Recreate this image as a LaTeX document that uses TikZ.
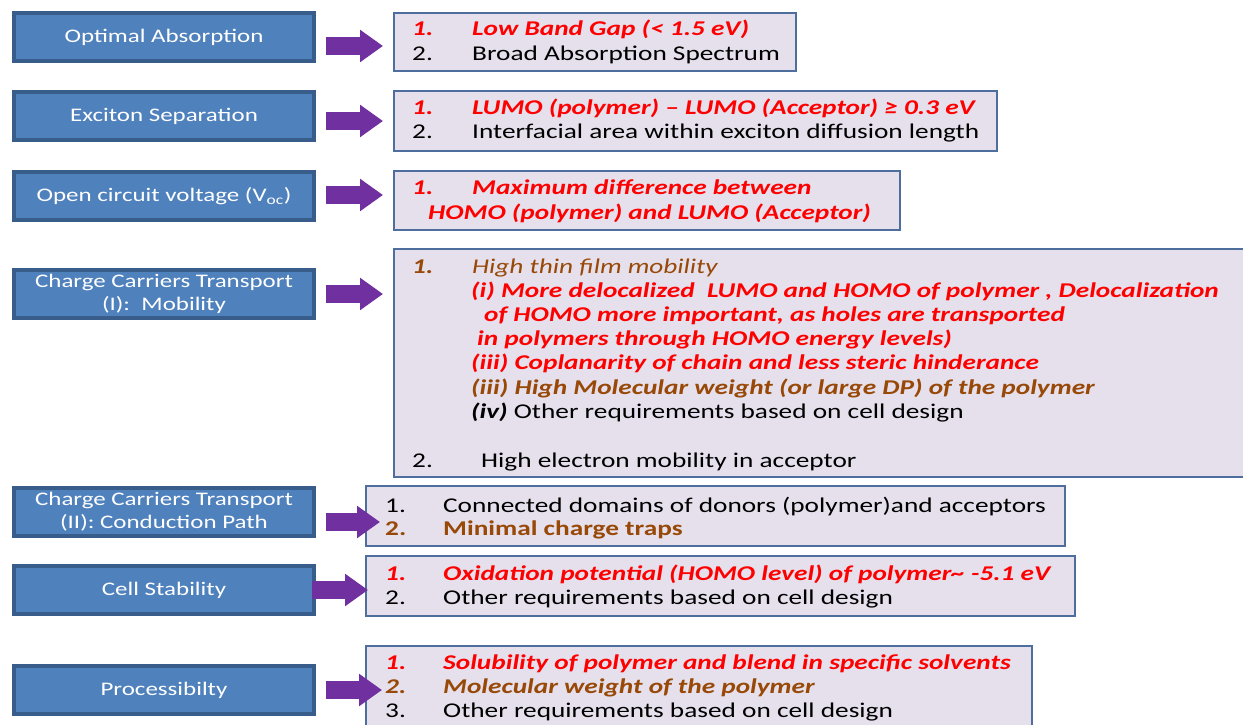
\documentclass[tikz,border=0pt]{standalone}
\usepackage{fontspec}
\setmainfont[FakeStretch=1.30]{Carlito}
\usetikzlibrary{arrows.meta}

\definecolor{topicblue}{HTML}{4F81BD}
\definecolor{topicedge}{HTML}{385D8A}
\definecolor{listfill}{HTML}{E5E0EC}
\definecolor{listedge}{HTML}{4E6E9E}
\definecolor{arrowpurple}{HTML}{7030A0}
\definecolor{hotred}{HTML}{FF0000}
\definecolor{darkbrown}{HTML}{984807}

\newcommand{\listfont}{\fontsize{21}{25}\selectfont}
\newcommand{\listno}[2][60pt]{\makebox[#1][l]{#2}}

\begin{document}
\begin{tikzpicture}[x=1pt,y=1pt,
    topic node/.style={rectangle,draw=topicedge,line width=3.5pt,fill=topicblue,text=white,minimum width=300pt,minimum height=48pt,align=center,font=\fontsize{19.2}{23}\selectfont},
    list node/.style={rectangle,draw=listedge,line width=1.6pt,fill=listfill,anchor=north west,inner sep=0pt},
    item/.style={anchor=base west,inner sep=0pt,font=\listfont},
    red item/.style={item,text=hotred,font=\listfont\bfseries\itshape},
    brown item/.style={item,text=darkbrown,font=\listfont\bfseries\itshape},
    block arrow/.style={draw=arrowpurple,line width=18pt,-{Triangle[length=23pt,width=31pt]}}]
    \useasboundingbox (0,0) rectangle (1243,-725);

    % topics
    \node[topic node] (1) at (164,-37) {Optimal Absorption};
    \node[topic node] (2) at (164,-116) {Exciton Separation};
    \node[topic node] (3) at (164,-196) {Open circuit voltage (V\textsubscript{oc})};
    \node[topic node] (4) at (164,-294) {Charge Carriers Transport\\(I):\ \ Mobility};
    \node[topic node] (5) at (164,-512) {Charge Carriers Transport\\(II): Conduction Path};
    \node[topic node] (6) at (164,-590) {Cell Stability};
    \node[topic node] (7) at (164,-690) {Processibilty};

    % requirement boxes
    \node[list node,minimum width=402pt,minimum height=58pt] (r1) at (393,-12) {};
    \node[list node,minimum width=603pt,minimum height=60pt] (r2) at (393,-90) {};
    \node[list node,minimum width=506pt,minimum height=59pt] (r3) at (393,-170) {};
    \node[list node,minimum width=860pt,minimum height=228pt] (r4) at (393,-248) {};
    \node[list node,minimum width=699pt,minimum height=60pt] (r5) at (365,-485) {};
    \node[list node,minimum width=709pt,minimum height=60pt] (r6) at (365,-555) {};
    \node[list node,minimum width=666pt,minimum height=92pt] (r7) at (365,-645) {};

    \node[red item] (r1a) at (412,-36) {\listno{1.}Low Band Gap (< 1.5 eV)};
    \node[item] (r1b) at (412,-61) {\listno{2.}Broad Absorption Spectrum};

    \node[red item] (r2a) at (412,-114) {\listno{1.}LUMO (polymer) – LUMO (Acceptor) ≥ 0.3 eV};
    \node[item] (r2b) at (412,-139) {\listno{2.}Interfacial area within exciton diffusion length};

    \node[red item] (r3a) at (412,-194) {\listno{1.}Maximum difference between};
    \node[red item] (r3b) at (428,-219) {HOMO (polymer) and LUMO (Acceptor)};

    \node[item,text=darkbrown,font=\listfont\itshape] (r4a) at (412,-273) {\listno{\bfseries 1.}High thin film mobility};
    \node[red item] (r4b) at (471,-297) {(i) More delocalized\ \ LUMO and HOMO of polymer , Delocalization};
    \node[red item] (r4c) at (484,-321) {of HOMO more important, as holes are transported};
    \node[red item] (r4d) at (477,-345) {in polymers through HOMO energy levels)};
    \node[red item] (r4e) at (471,-369) {(iii) Coplanarity of chain and less steric hinderance};
    \node[brown item] (r4f) at (471,-394) {(iii) High Molecular weight (or large DP) of the polymer};
    \node[item] (r4g) at (471,-418) {\textbf{\textit{(iv)}} Other requirements based on cell design};
    \node[item] (r4h) at (412,-467) {\listno[69pt]{2.}High electron mobility in acceptor};

    \node[item] (r5a) at (385,-512) {\listno[58pt]{1.}Connected domains of donors (polymer)and acceptors};
    \node[item,text=darkbrown,font=\listfont\bfseries] (r5b) at (385,-535) {\listno[58pt]{2.}Minimal charge traps};

    \node[red item] (r6a) at (385,-580) {\listno[58pt]{1.}Oxidation potential (HOMO level) of polymer\textasciitilde{} -5.1 eV};
    \node[item] (r6b) at (385,-604) {\listno[58pt]{2.}Other requirements based on cell design};

    \node[red item] (r7a) at (385,-669) {\listno[58pt]{1.}Solubility of polymer and blend in specific solvents};
    \node[brown item] (r7b) at (385,-693) {\listno[58pt]{2.}Molecular weight of the polymer};
    \node[item] (r7c) at (385,-717) {\listno[58pt]{3.}Other requirements based on cell design};

    % arrows
    \coordinate (a1) at (0,-46);
    \coordinate (a2) at (0,-121);
    \coordinate (a3) at (0,-195);
    \coordinate (a4) at (0,-294);
    \coordinate (a5) at (0,-522);
    \coordinate (a6) at (0,-590);
    \coordinate (a7) at (0,-690);
    \draw[block arrow,shorten <=10pt,shorten >=10pt] (1.east |- a1) -- (r1.west |- a1);
    \draw[block arrow,shorten <=10pt,shorten >=10pt] (2.east |- a2) -- (r2.west |- a2);
    \draw[block arrow,shorten <=10pt,shorten >=10pt] (3.east |- a3) -- (r3.west |- a3);
    \draw[block arrow,shorten <=10pt,shorten >=10pt] (4.east |- a4) -- (r4.west |- a4);
    \draw[block arrow,shorten <=10pt,shorten >=-15pt] (5.east |- a5) -- (r5.west |- a5);
    \draw[block arrow,shorten <=-4pt,shorten >=-3pt] (6.east |- a6) -- (r6.west |- a6);
    \draw[block arrow,shorten <=10pt,shorten >=-17pt] (7.east |- a7) -- (r7.west |- a7);
\end{tikzpicture}
\end{document}
